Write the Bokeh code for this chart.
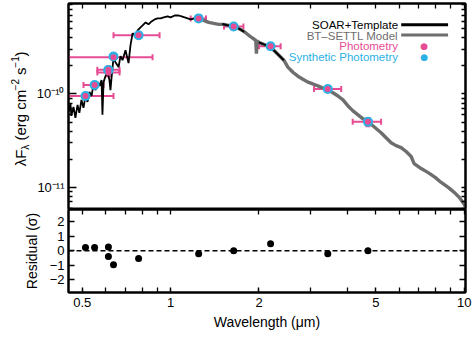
from math import pi
from bokeh.plotting import figure
from bokeh.layouts import column, row
from bokeh.core.properties import value
from bokeh.models import (Range1d, FixedTicker, LinearAxis, LogAxis, Whisker,
                          ColumnDataSource, Span, Label, BoxAnnotation, TeeHead)
from bokeh.embed import file_html
from bokeh.resources import INLINE

FONT = "Liberation Sans"
PINK = "#e64c94"
CYAN = "#2cb1e4"
GRAY = "#6e6e6e"

# ---------------- data ----------------
# SOAR + template spectrum (black), wavelength in micron, lambda*F_lambda in erg/cm2/s
soar_wl_a = [0.449, 0.456, 0.459, 0.467, 0.474, 0.482, 0.489, 0.497, 0.505, 0.513,
             0.521, 0.529, 0.538, 0.546, 0.555, 0.564, 0.573, 0.582, 0.586, 0.591,
             0.600, 0.610, 0.619, 0.624, 0.629, 0.639, 0.649, 0.665, 0.675, 0.686,
             0.702, 0.719, 0.730, 0.742, 0.759, 0.772, 0.790, 0.803, 0.822, 0.841,
             0.861, 0.882, 0.903, 0.924, 0.947, 0.977, 1.000, 1.032, 1.065, 1.090,
             1.116, 1.143, 1.170, 1.207, 1.246]
soar_fx_a = [6.43e-11, 7.83e-11, 5.83e-11, 7.27e-11, 5.56e-11, 7.64e-11, 6.28e-11, 8.63e-11, 7.10e-11, 9.52e-11,
             8.22e-11, 1.05e-10, 9.52e-11, 1.25e-10, 1.10e-10, 1.34e-10, 1.22e-10, 1.41e-10, 5.98e-11, 1.34e-10,
             1.55e-10, 1.71e-10, 1.41e-10, 1.10e-10, 1.48e-10, 2.42e-10, 2.19e-10, 1.94e-10, 2.54e-10, 2.30e-10,
             2.94e-10, 2.14e-10, 3.32e-10, 4.46e-10, 4.25e-10, 4.80e-10, 5.16e-10, 5.42e-10, 5.83e-10, 5.56e-10,
             5.98e-10, 6.28e-10, 6.44e-10, 6.44e-10, 6.60e-10, 6.76e-10, 6.60e-10, 6.92e-10, 6.92e-10, 6.76e-10,
             6.60e-10, 6.44e-10, 6.28e-10, 6.44e-10, 6.44e-10]
soar_wl_b = [1.50, 1.56, 1.62, 1.68, 1.74, 1.78]
soar_fx_b = [5.60e-10, 5.45e-10, 5.33e-10, 5.12e-10, 4.85e-10, 4.60e-10]
soar_wl_c = [1.997, 2.077, 2.160, 2.246, 2.337, 2.430]
soar_fx_c = [3.57e-10, 3.40e-10, 3.24e-10, 2.94e-10, 2.60e-10, 2.30e-10]

# BT-SETTL model (grey)
model_wl = [1.246, 1.296, 1.348, 1.402, 1.458, 1.517, 1.578, 1.641, 1.707, 1.775,
            1.846, 1.905, 1.950, 1.960, 1.970, 1.997, 2.077, 2.160, 2.246, 2.337,
            2.430, 2.508, 2.609, 2.713, 2.822, 2.935, 3.052, 3.174, 3.302, 3.434,
            3.572, 3.715, 3.864, 4.019, 4.180, 4.347, 4.521, 4.703, 4.930, 5.209,
            5.461, 5.635, 5.861, 6.095, 6.339, 6.594, 6.751, 7.134, 7.537, 7.962,
            8.348, 8.819, 9.245, 9.614, 10.0, 10.16]
model_fx = [6.44e-10, 6.13e-10, 5.83e-10, 5.69e-10, 5.56e-10, 5.56e-10, 5.42e-10, 5.28e-10, 5.03e-10, 4.68e-10,
            4.25e-10, 3.95e-10, 3.75e-10, 2.70e-10, 3.70e-10, 3.57e-10, 3.40e-10, 3.24e-10, 2.94e-10, 2.60e-10,
            2.30e-10, 1.94e-10, 1.71e-10, 1.55e-10, 1.44e-10, 1.34e-10, 1.28e-10, 1.22e-10, 1.16e-10, 1.10e-10,
            1.03e-10, 9.52e-11, 8.63e-11, 7.45e-11, 6.59e-11, 5.98e-11, 5.42e-11, 5.04e-11, 4.46e-11, 3.85e-11,
            3.32e-11, 3.01e-11, 2.80e-11, 2.67e-11, 2.42e-11, 2.14e-11, 1.80e-11, 1.59e-11, 1.44e-11, 1.28e-11,
            1.13e-11, 1.00e-11, 8.85e-12, 7.83e-12, 6.59e-12, 5.83e-12]

# Photometry
phot_wl = [0.513, 0.551, 0.614, 0.614, 0.639, 0.778, 1.246, 1.640, 2.190, 3.430, 4.700]
phot_fx = [9.50e-11, 1.25e-10, 1.82e-10, 1.70e-10, 2.48e-10, 4.25e-10, 6.44e-10, 5.28e-10, 3.24e-10, 1.13e-10, 5.03e-11]
phot_wl_lo = [0.449, 0.505, 0.563, 0.563, 0.449, 0.639, 1.170, 1.520, 2.000, 3.080, 4.170]
phot_wl_hi = [0.639, 0.591, 0.670, 0.670, 0.868, 0.917, 1.320, 1.770, 2.370, 3.810, 5.210]
phot_ferr_frac = [0.07, 0.07, 0.09, 0.09, 0.07, 0.07, 0.06, 0.06, 0.06, 0.07, 0.10]
synth_fx = [9.50e-11, 1.25e-10, 1.80e-10, 1.80e-10, 2.52e-10, 4.25e-10, 6.44e-10, 5.28e-10, 3.24e-10, 1.13e-10, 5.03e-11]
residual = [0.21, 0.21, 0.25, -0.41, -0.97, -0.55, -0.21, 0.0, 0.48, -0.21, 0.0]

x_major = [0.5, 1, 2, 5, 10]
x_minor = [0.6, 0.7, 0.8, 0.9, 3, 4, 6, 7, 8, 9]
y_major = [1e-11, 1e-10]
y_minor = [6e-12, 7e-12, 8e-12, 9e-12] + [k * 1e-11 for k in range(2, 10)] + [k * 1e-10 for k in range(2, 10)]
y_labels = {1e-11: "10\u207b\u00b9\u00b9", 1e-10: "10\u207b\u00b9\u2070"}
res_ticks = [-2, -1, 0, 1, 2]

legend_items = [("SOAR+Template", "black"), ("BT\u2013SETTL Model", GRAY),
                ("Photometry", PINK), ("Synthetic Photometry", CYAN)]

# y-axis title pieces: text, sideways shift (px), font size, advance along the axis (px)
ytitle_pieces = [("\u03bbF", 0, "15px", 16.7), ("\u03bb", 5, "10px", 9.2), ("(erg cm", 0, "15px", 50.9),
                 ("\u22122", -6, "10px", 15.6), ("s", 0, "15px", 7.5), ("\u22121", -6, "10px", 11.4),
                 (")", 0, "15px", 5.0)]

# ---------------- helpers ----------------
def style_axis(ax, tick_in, minor_in=0, size="13px"):
    ax.axis_line_width = 2
    ax.axis_line_color = "black"
    ax.major_tick_in = tick_in
    ax.major_tick_out = 0
    ax.minor_tick_in = minor_in
    ax.minor_tick_out = 0
    ax.major_tick_line_width = 1.5
    ax.minor_tick_line_width = 1.3
    ax.major_label_text_font = FONT
    ax.major_label_text_color = "black"
    ax.major_label_text_font_size = size
    ax.major_label_standoff = 4
    ax.axis_label_text_font = FONT
    ax.axis_label_text_font_style = "normal"
    ax.axis_label_text_color = "black"


def bare_axis(ax, tick_in):
    style_axis(ax, tick_in, tick_in)
    ax.major_label_standoff = 0
    ax.axis_label_standoff = 0


x_range = Range1d(0.449, 10.1)

# ---------------- y title strip ----------------
TW = 30
yl = figure(width=TW, height=209, x_range=Range1d(0, TW), y_range=Range1d(0, 209),
            output_backend="svg", toolbar_location=None, min_border=0)
yl.axis.visible = False
yl.grid.visible = False
yl.outline_line_color = None
pos = 209 - 165
for txt, dx, fs, w in ytitle_pieces:
    yl.text(x=[20 + dx], y=[pos], text=[txt], angle=pi / 2, text_align="left",
            text_baseline="middle", text_font=value(FONT), text_font_size=fs,
            text_color="black")
    pos += w

# ---------------- main panel ----------------
p = figure(width=474 - TW, height=209, x_axis_type="log", y_axis_type="log",
           x_range=x_range, y_range=Range1d(5.8e-12, 9.3e-10),
           x_axis_location="above", output_backend="svg", toolbar_location=None,
           min_border_left=68 - TW, min_border_right=9, min_border_top=3, min_border_bottom=0)
p.grid.visible = False
p.outline_line_color = "black"
p.outline_line_width = 2

p.xaxis.ticker = FixedTicker(ticks=[], minor_ticks=x_major + x_minor)
bare_axis(p.xaxis[0], 5)
p.yaxis.ticker = FixedTicker(ticks=y_major, minor_ticks=y_minor)
p.yaxis.major_label_overrides = y_labels
style_axis(p.yaxis[0], 8, 4)
ra = LogAxis(ticker=FixedTicker(ticks=[], minor_ticks=y_major + y_minor))
bare_axis(ra, 4)
p.add_layout(ra, "right")

p.line(model_wl, model_fx, line_color=GRAY, line_width=3.4)
p.line(soar_wl_a, soar_fx_a, line_color="black", line_width=1.8)
p.line(soar_wl_b, soar_fx_b, line_color="black", line_width=2)
p.line(soar_wl_c, soar_fx_c, line_color="black", line_width=2)

src = ColumnDataSource(dict(
    wl=phot_wl, fx=phot_fx, lo=phot_wl_lo, hi=phot_wl_hi, synth=synth_fx,
    flo=[f * (1 - e) for f, e in zip(phot_fx, phot_ferr_frac)],
    fhi=[f * (1 + e) for f, e in zip(phot_fx, phot_ferr_frac)],
))
p.scatter("wl", "synth", source=src, size=10, fill_color=CYAN, line_color=None)
wx = Whisker(source=src, base="fx", lower="lo", upper="hi", dimension="width",
             line_color=PINK, line_width=2,
             upper_head=TeeHead(size=6, line_color=PINK, line_width=2),
             lower_head=TeeHead(size=6, line_color=PINK, line_width=2))
wy = Whisker(source=src, base="wl", lower="flo", upper="fhi", dimension="height",
             line_color=PINK, line_width=2,
             upper_head=TeeHead(size=5, line_color=PINK, line_width=2),
             lower_head=TeeHead(size=5, line_color=PINK, line_width=2))
p.add_layout(wx)
p.add_layout(wy)
p.scatter("wl", "fx", source=src, size=6, fill_color=PINK, line_color=None)

# legend: anchored at one data position, rows offset in pixels
LEG_TEXT_X, LEG_DOT_X, LEG_Y = 5.95, 7.30, 5.50e-10
LEG_LINE_L, LEG_LINE_R = 6.10, 8.81
leg_line_boxes = [(5.30e-10, 5.70e-10), (4.12e-10, 4.43e-10)]
for i, (txt, col) in enumerate(legend_items):
    p.add_layout(Label(x=LEG_TEXT_X, y=LEG_Y, y_offset=-10.7 * i, text=txt,
                       text_align="right", text_baseline="middle", text_color=col,
                       text_font=FONT, text_font_size="11.5px"))
    if i < 2:
        b, t = leg_line_boxes[i]
        p.add_layout(BoxAnnotation(left=LEG_LINE_L, right=LEG_LINE_R, bottom=b, top=t,
                                   fill_color=col, fill_alpha=1, line_color=None))
    else:
        p.add_layout(Label(x=LEG_DOT_X, y=LEG_Y, y_offset=-10.7 * i, text="\u25cf",
                           text_align="center", text_baseline="middle", text_color=col,
                           text_font="DejaVu Sans", text_font_size="9px"))

# ---------------- residual panel ----------------
r = figure(width=474, height=143, x_axis_type="log", x_range=x_range,
           y_range=Range1d(-2.9, 2.85), output_backend="svg", toolbar_location=None,
           min_border_left=68, min_border_right=9, min_border_top=0, min_border_bottom=60)
r.grid.visible = False
r.outline_line_color = "black"
r.outline_line_width = 2
r.xaxis.ticker = FixedTicker(ticks=x_major, minor_ticks=x_minor)
style_axis(r.xaxis[0], 5, 5)
r.xaxis.major_label_standoff = 5
r.xaxis.axis_label = "Wavelength (\u03bcm)"
r.xaxis.axis_label_text_font_size = "14px"
r.xaxis.axis_label_standoff = 4
r.yaxis.ticker = FixedTicker(ticks=res_ticks, minor_ticks=[])
style_axis(r.yaxis[0], 6)
r.yaxis.axis_label = "Residual (\u03c3)"
r.yaxis.axis_label_text_font_size = "14px"
r.yaxis.axis_label_standoff = 7
ta = LogAxis(ticker=FixedTicker(ticks=[], minor_ticks=x_major + x_minor))
bare_axis(ta, 5)
r.add_layout(ta, "above")
rr = LinearAxis(ticker=FixedTicker(ticks=[], minor_ticks=res_ticks))
bare_axis(rr, 6)
r.add_layout(rr, "right")

r.add_layout(Span(location=0, dimension="width", line_color="black", line_width=1.5,
                  line_dash="5 3"))
r.scatter(phot_wl, residual, size=7, fill_color="black", line_color=None)

layout = column(row(yl, p, spacing=0), r, spacing=0)
open("out.html", "w").write(file_html(layout, INLINE))
